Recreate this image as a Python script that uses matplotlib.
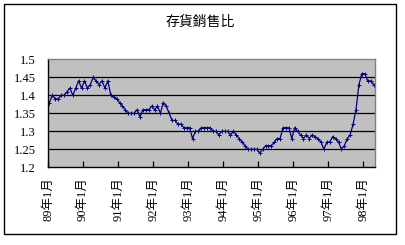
import matplotlib
matplotlib.use("Agg")
import matplotlib.pyplot as plt
from matplotlib.patches import Rectangle
import numpy as np

title = "存貨銷售比"
tick_labels = ["89年1月", "90年1月", "91年1月", "92年1月", "93年1月",
               "94年1月", "95年1月", "96年1月", "97年1月", "98年1月"]
y_ticks = [1.2, 1.25, 1.3, 1.35, 1.4, 1.45, 1.5]
y_tick_labels = ["1.2", "1.25", "1.3", "1.35", "1.4", "1.45", "1.5"]

ratio = [
    # 1989
    1.38, 1.40, 1.39, 1.39, 1.40, 1.40, 1.41, 1.42, 1.40, 1.42, 1.44, 1.42,
    # 1990
    1.44, 1.42, 1.43, 1.45, 1.44, 1.43, 1.44, 1.42, 1.44, 1.40, 1.395, 1.39,
    # 1991
    1.38, 1.37, 1.36, 1.35, 1.35, 1.35, 1.36, 1.34, 1.36, 1.36, 1.36, 1.37,
    # 1992
    1.36, 1.37, 1.35, 1.38, 1.37, 1.35, 1.33, 1.33, 1.32, 1.32, 1.31, 1.31,
    # 1993
    1.31, 1.28, 1.30, 1.30, 1.31, 1.31, 1.31, 1.31, 1.30, 1.30, 1.29, 1.30,
    # 1994
    1.30, 1.30, 1.29, 1.30, 1.29, 1.28, 1.27, 1.26, 1.25, 1.25, 1.25, 1.25,
    # 1995
    1.24, 1.25, 1.26, 1.26, 1.26, 1.27, 1.28, 1.28, 1.31, 1.31, 1.31, 1.28,
    # 1996
    1.31, 1.30, 1.29, 1.28, 1.29, 1.28, 1.29, 1.285, 1.28, 1.27, 1.25, 1.27,
    # 1997
    1.27, 1.285, 1.28, 1.27, 1.25, 1.26, 1.28, 1.29, 1.32, 1.36, 1.43, 1.46,
    # 1998
    1.46, 1.44, 1.44, 1.43,
]

W, H = 405, 245
fig = plt.figure(figsize=(W / 100, H / 100), dpi=100)
fig.patch.set_facecolor("white")

# outer chart border
fig.patches.append(Rectangle((4 / W, 1 - 234 / H), (395.5 - 4) / W, (234 - 4) / H,
                             transform=fig.transFigure, fill=False,
                             edgecolor="black", linewidth=1.0))

left, right, top, bottom = 48, 375, 59.3, 167.3
ax = fig.add_axes([left / W, 1 - bottom / H, (right - left) / W, (bottom - top) / H])
ax.set_facecolor("#c0c0c0")

x = np.arange(len(ratio))
ax.plot(x, ratio, color="#000080", linewidth=0.9, marker="+", markersize=2.5,
        markeredgewidth=0.7)

ax.set_xlim(-0.5, len(ratio) - 0.5)
ax.set_ylim(1.2, 1.5)
ax.set_yticks(y_ticks)
ax.set_yticklabels(y_tick_labels, family="Liberation Serif", fontsize=9)
for yv in y_ticks[1:-1]:
    ax.axhline(yv, color="black", linewidth=0.9, zorder=1)

xt = [i * 12 - 0.5 for i in range(len(tick_labels))]
ax.set_xticks(xt)
ax.set_xticklabels(tick_labels, rotation=90, fontsize=9,
                   family=["Liberation Serif", "Noto Sans CJK TC"])
ax.tick_params(axis="x", direction="in", length=4, width=0.9, pad=7, colors="black")
ax.tick_params(axis="y", length=0, pad=9)

for s in ["top", "right"]:
    ax.spines[s].set_color("#808080")
    ax.spines[s].set_linewidth(1.0)
ax.spines["left"].set_color("black")
ax.spines["bottom"].set_color("black")
ax.spines["left"].set_linewidth(1.0)
ax.spines["bottom"].set_linewidth(1.0)

fig.text(200 / W, 1 - 22 / H, title, ha="center", va="center", fontsize=10,
         family=["Noto Sans CJK TC"])

fig.savefig("out.png", dpi=100, facecolor="white")
